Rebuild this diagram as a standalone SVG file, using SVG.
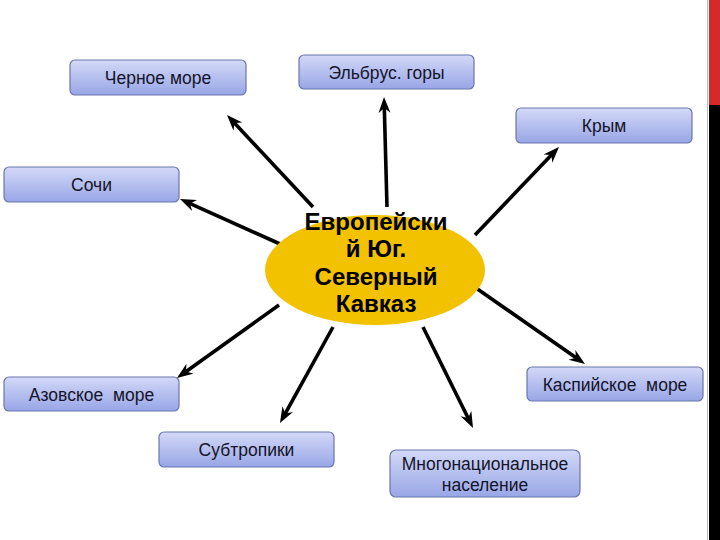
<svg xmlns="http://www.w3.org/2000/svg" width="720" height="540" viewBox="0 0 720 540">
  <defs>
    <linearGradient id="boxGrad" x1="0" y1="0" x2="0" y2="1">
      <stop offset="0" stop-color="#d3d9f7"/>
      <stop offset="1" stop-color="#98a6e6"/>
    </linearGradient>
    <marker id="arrow" markerUnits="userSpaceOnUse" markerWidth="18" markerHeight="14" refX="6" refY="6" orient="auto" viewBox="0 0 18 14">
      <path d="M0,0 L16,6 L0,12 L5,6 z" fill="#000"/>
    </marker>
  </defs>
  <style>
    .box { fill: url(#boxGrad); stroke: #6b76ad; stroke-width: 1.2; }
    .lbl { font-family: "Liberation Sans", Arial, sans-serif; font-size: 17.5px; fill: #14142a; text-anchor: middle; white-space: pre; }
    .center { font-family: "Liberation Sans", Arial, sans-serif; font-size: 24px; font-weight: bold; fill: #000; text-anchor: middle; }
    .conn line { stroke: #000; stroke-width: 3.6; marker-end: url(#arrow); }
  </style>
  <rect x="0" y="0" width="720" height="540" fill="#ffffff"/>
  <line x1="707.5" y1="0" x2="707.5" y2="540" stroke="#bbbbbb" stroke-width="1"/>
  <rect x="709" y="0" width="11" height="540" fill="#000000"/>
  <rect x="709" y="0" width="11" height="105" fill="#d42a2a"/>

  <g id="connectors" class="conn">
    <line x1="313" y1="207" x2="233.8" y2="122.3"/>
    <line x1="387" y1="207" x2="384.3" y2="107"/>
    <line x1="475" y1="235" x2="552.1" y2="154.2"/>
    <line x1="280" y1="244" x2="189.1" y2="203.1"/>
    <line x1="279" y1="305" x2="185.1" y2="372.2"/>
    <line x1="333" y1="327" x2="284.8" y2="414.3"/>
    <line x1="423" y1="327" x2="468.6" y2="419"/>
    <line x1="476" y1="288" x2="576.8" y2="358.3"/>
  </g>

  <g id="center">
    <ellipse cx="375" cy="270" rx="110" ry="55" fill="#f2c100"/>
    <text class="center" x="376" y="230">Европейски</text>
    <text class="center" x="376" y="257">й Юг.</text>
    <text class="center" x="376" y="285">Северный</text>
    <text class="center" x="376" y="312">Кавказ</text>
  </g>

  <g id="node-chernoe">
    <rect class="box" x="70" y="60" width="176" height="35" rx="5"/>
    <text class="lbl" x="158" y="84">Черное море</text>
  </g>
  <g id="node-elbrus">
    <rect class="box" x="299" y="55" width="175" height="34" rx="5"/>
    <text class="lbl" x="386.5" y="79">Эльбрус. горы</text>
  </g>
  <g id="node-krym">
    <rect class="box" x="516" y="108" width="176" height="35" rx="5"/>
    <text class="lbl" x="604" y="132">Крым</text>
  </g>
  <g id="node-sochi">
    <rect class="box" x="4" y="167" width="175" height="35" rx="5"/>
    <text class="lbl" x="91.5" y="191">Сочи</text>
  </g>
  <g id="node-azov">
    <rect class="box" x="4" y="377" width="175" height="34" rx="5"/>
    <text class="lbl" x="91.5" y="401" xml:space="preserve">Азовское  море</text>
  </g>
  <g id="node-subtropiki">
    <rect class="box" x="159" y="432" width="175" height="35" rx="5"/>
    <text class="lbl" x="246.5" y="456">Субтропики</text>
  </g>
  <g id="node-mnogonac">
    <rect class="box" x="390" y="450" width="190" height="47" rx="6"/>
    <text class="lbl" x="485" y="470">Многонациональное</text>
    <text class="lbl" x="485" y="491">население</text>
  </g>
  <g id="node-kaspiy">
    <rect class="box" x="527" y="367" width="176" height="34" rx="5"/>
    <text class="lbl" x="615" y="391" xml:space="preserve">Каспийское  море</text>
  </g>
</svg>
